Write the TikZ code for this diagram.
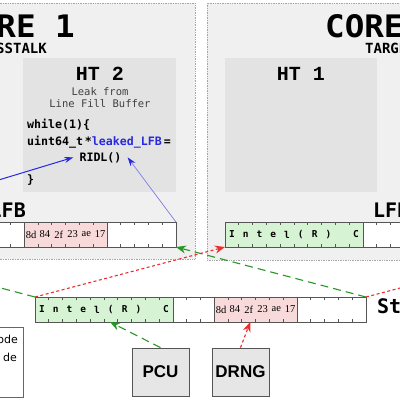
\documentclass[tikz,border=0pt]{standalone}
\usepackage{fontspec}
\usepackage{graphicx}
\newfontfamily\labelfont{DejaVu Sans Mono}
\newfontfamily\htfont{Liberation Mono}
\newfontfamily\boxfont{Liberation Sans}
\newfontfamily\notefont{DejaVu Sans}
\newfontfamily\bytefont{Liberation Serif}
\usetikzlibrary{positioning,arrows.meta,calc}
\definecolor{corebg}{RGB}{240,240,240}
\definecolor{htbg}{RGB}{227,227,227}
\definecolor{corerim}{RGB}{165,165,165}
\definecolor{bufrim}{RGB}{85,85,85}
\definecolor{bytegreen}{RGB}{214,244,212}
\definecolor{bytepink}{RGB}{248,218,218}
\definecolor{copygreen}{RGB}{40,150,40}
\definecolor{copyred}{RGB}{235,45,45}
\definecolor{leakblue}{RGB}{40,40,225}
\definecolor{probeblue}{RGB}{125,125,230}
\definecolor{unitbg}{RGB}{230,230,230}
\def\cw{13.79pt}
\newcommand{\coretitle}[1]{\scalebox{1.05}[1]{#1}}

\begin{document}
\begin{tikzpicture}[x=1pt, y=-1pt,
    core/.style={rectangle, draw=corerim, densely dotted, fill=corebg, line width=0.7pt,
                 inner sep=0pt, outer sep=0pt},
    thread/.style={rectangle, fill=htbg, inner sep=0pt, outer sep=0pt},
    title/.style={inner sep=0pt, font=\labelfont\bfseries\fontsize{31}{31}\selectfont},
    subtitle/.style={inner sep=0pt, font=\labelfont\bfseries\fontsize{14}{14}\selectfont},
    httitle/.style={inner sep=0pt, font=\htfont\bfseries\fontsize{20}{20}\selectfont},
    bufname/.style={inner sep=0pt, font=\labelfont\bfseries\fontsize{20}{20}\selectfont},
    code/.style={inner sep=0pt, font=\labelfont\bfseries\fontsize{11.6}{12}\selectfont},
    seg/.style={rectangle, draw=bufrim, line width=0.8pt, minimum height=25pt,
                inner sep=0pt, outer sep=0pt},
    tick/.style={bufrim, line width=0.8pt},
    chr/.style={inner sep=0pt, font=\labelfont\bfseries\fontsize{9.5}{10}\selectfont},
    byte/.style={inner sep=0pt, font=\bytefont\fontsize{10.5}{11}\selectfont},
    unit/.style={rectangle, draw=bufrim, fill=unitbg, line width=0.8pt, minimum width=57pt,
                 minimum height=48pt, font=\boxfont\bfseries\fontsize{17}{17}\selectfont},
    greencopy/.style={copygreen, line width=1.1pt, dash pattern=on 8pt off 5pt,
                      -{Stealth[length=10pt, width=8pt]}},
    redcopy/.style={copyred, line width=1.1pt, dash pattern=on 3pt off 2.5pt,
                    -{Stealth[length=10pt, width=8pt]}},
    leak/.style={leakblue, line width=1pt, -{Stealth[length=9pt, width=6pt]}},
    probe/.style={probeblue, line width=0.7pt, -{Stealth[length=9pt, width=6pt, color=leakblue]}}
]
\useasboundingbox (0,0) rectangle (400,400);
\clip (0,0) rectangle (400,400);

% cores and hyper-threads
\node[core, minimum width=350pt, minimum height=256pt] (core1) at (20,131) {};
\node[core, minimum width=356pt, minimum height=257pt] (core2) at (385,131.5) {};
\node[title, anchor=base east] (c1title) at (75,37) {\coretitle{CORE 1}};
\node[title, anchor=base west] (c2title) at (325,37) {\coretitle{CORE 2}};
\node[subtitle, anchor=base east] (c1sub) at (47,53) {CROSSTALK};
\node[subtitle, anchor=base west] (c2sub) at (365,53) {TARGET};

\node[thread, minimum width=153pt, minimum height=134pt] (ht2) at (99.5,125) {};
\node[thread, minimum width=152pt, minimum height=134pt] (ht1) at (301,125) {};
\node[httitle, anchor=base] (ht2name) at (100,80) {HT 2};
\node[httitle, anchor=base] (ht1name) at (301,80) {HT 1};
\node[anchor=north, inner sep=0pt, align=center, text=black!75,
      font=\labelfont\fontsize{10.5}{12}\selectfont] (ht2note) at (100,87) {Leak from\\Line Fill Buffer};

% attacker code
\node[code, anchor=base west] (loop) at (27,128) {while(1)\{};
\node[code, anchor=base west] (decl) at (27,145) {uint64\_t\,*{\color{leakblue}leaked\_LFB}\,=};
\node[code, anchor=base, inner sep=6pt] (ridl) at (100.5,161) {RIDL()};
\node[code, anchor=base west] (close) at (27,183) {\}};

% line fill buffers
\node[bufname, anchor=base east] (lfb1name) at (26,217) {LFB};
\node[bufname, anchor=base west] (lfb2name) at (373,217) {LFB};
\node[seg, fill=white, minimum width=13*\cw, anchor=west] (segA1) at (-155,234.5) {};
\node[seg, fill=bytepink, minimum width=6*\cw, right=0pt of segA1] (segA2) {};
\node[seg, fill=white, minimum width=5*\cw, right=0pt of segA2] (segA3) {};
\node[seg, fill=bytegreen, minimum width=10*\cw, anchor=west] (segB1) at (225,234.5) {};
\node[seg, fill=white, minimum width=14*\cw, right=0pt of segB1] (segB2) {};

% staging buffer
\node[seg, fill=bytegreen, minimum width=10*\cw, anchor=west] (segS1) at (35,309.5) {};
\node[seg, fill=white, minimum width=3*\cw, right=0pt of segS1] (segS2) {};
\node[seg, fill=bytepink, minimum width=6*\cw, right=0pt of segS2] (segS3) {};
\node[seg, fill=white, minimum width=5*\cw, right=0pt of segS3] (segS4) {};
\node[bufname, anchor=base west] (stagename) at (377,313) {Staging Buffer};

\foreach \k in {1,...,23} {
  \draw[tick] ($(segA1.north west)+(\k*\cw,0)$) -- ++(0,3);
  \draw[tick] ($(segA1.south west)+(\k*\cw,0)$) -- ++(0,-3);
  \draw[tick] ($(segB1.north west)+(\k*\cw,0)$) -- ++(0,3);
  \draw[tick] ($(segB1.south west)+(\k*\cw,0)$) -- ++(0,-3);
  \draw[tick] ($(segS1.north west)+(\k*\cw,0)$) -- ++(0,3);
  \draw[tick] ($(segS1.south west)+(\k*\cw,0)$) -- ++(0,-3);
}
\foreach \ch [count=\i] in {{I},{n},{t},{e},{l},{(},{R},{)},{},{C}} {
  \node[chr] (chB\i) at ($(segB1.west)+({(\i-0.5)*\cw},0)$) {\ch};
  \node[chr] (chS\i) at ($(segS1.west)+({(\i-0.5)*\cw},0)$) {\ch};
}
\foreach \b [count=\i] in {8d,84,2f,23,ae,17} {
  \node[byte] (byA\i) at ($(segA2.west)+({(\i-0.5)*\cw},0)$) {\b};
  \node[byte] (byS\i) at ($(segS3.west)+({(\i-0.5)*\cw},0)$) {\b};
}

% offcore units and legend
\node[unit] (pcu) at (160.5,372) {PCU};
\node[unit] (drng) at (240.5,372) {DRNG};
\node[rectangle, draw=black!60, fill=white, line width=0.8pt, minimum width=86pt,
      minimum height=70pt] (legend) at (-20,362) {};
\node[anchor=base east, inner sep=0pt, font=\notefont\fontsize{11}{11}\selectfont] (legA) at (18,343) {ode};
\node[anchor=base east, inner sep=0pt, font=\notefont\fontsize{11}{11}\selectfont] (legB) at (17,361) {de};

% copies between buffers
\coordinate (pcuhit) at ($(segS1.south west)+(75pt,0)$);
\coordinate (drnghit) at ($(segS3.south west)+(36pt,0)$);
\coordinate (lfbpick) at ($(segA1.north west)+(15pt,0)$);
\draw[greencopy] (segS4.north east) -- (segA3.south east);
\draw[greencopy] (segS1.north west) -- (segA1.south west);
\draw[redcopy] (segS1.north west) -- (segB1.south west);
\draw[redcopy] (segS4.north east) -- (segB2.south east);
\draw[greencopy] (pcu.north) -- (pcuhit);
\draw[redcopy] (drng.north) -- (drnghit);

% leak
\draw[leak] (lfbpick) -- (ridl.west);
\draw[probe] (segA3.north east) -- (ridl.east);
\end{tikzpicture}
\end{document}
